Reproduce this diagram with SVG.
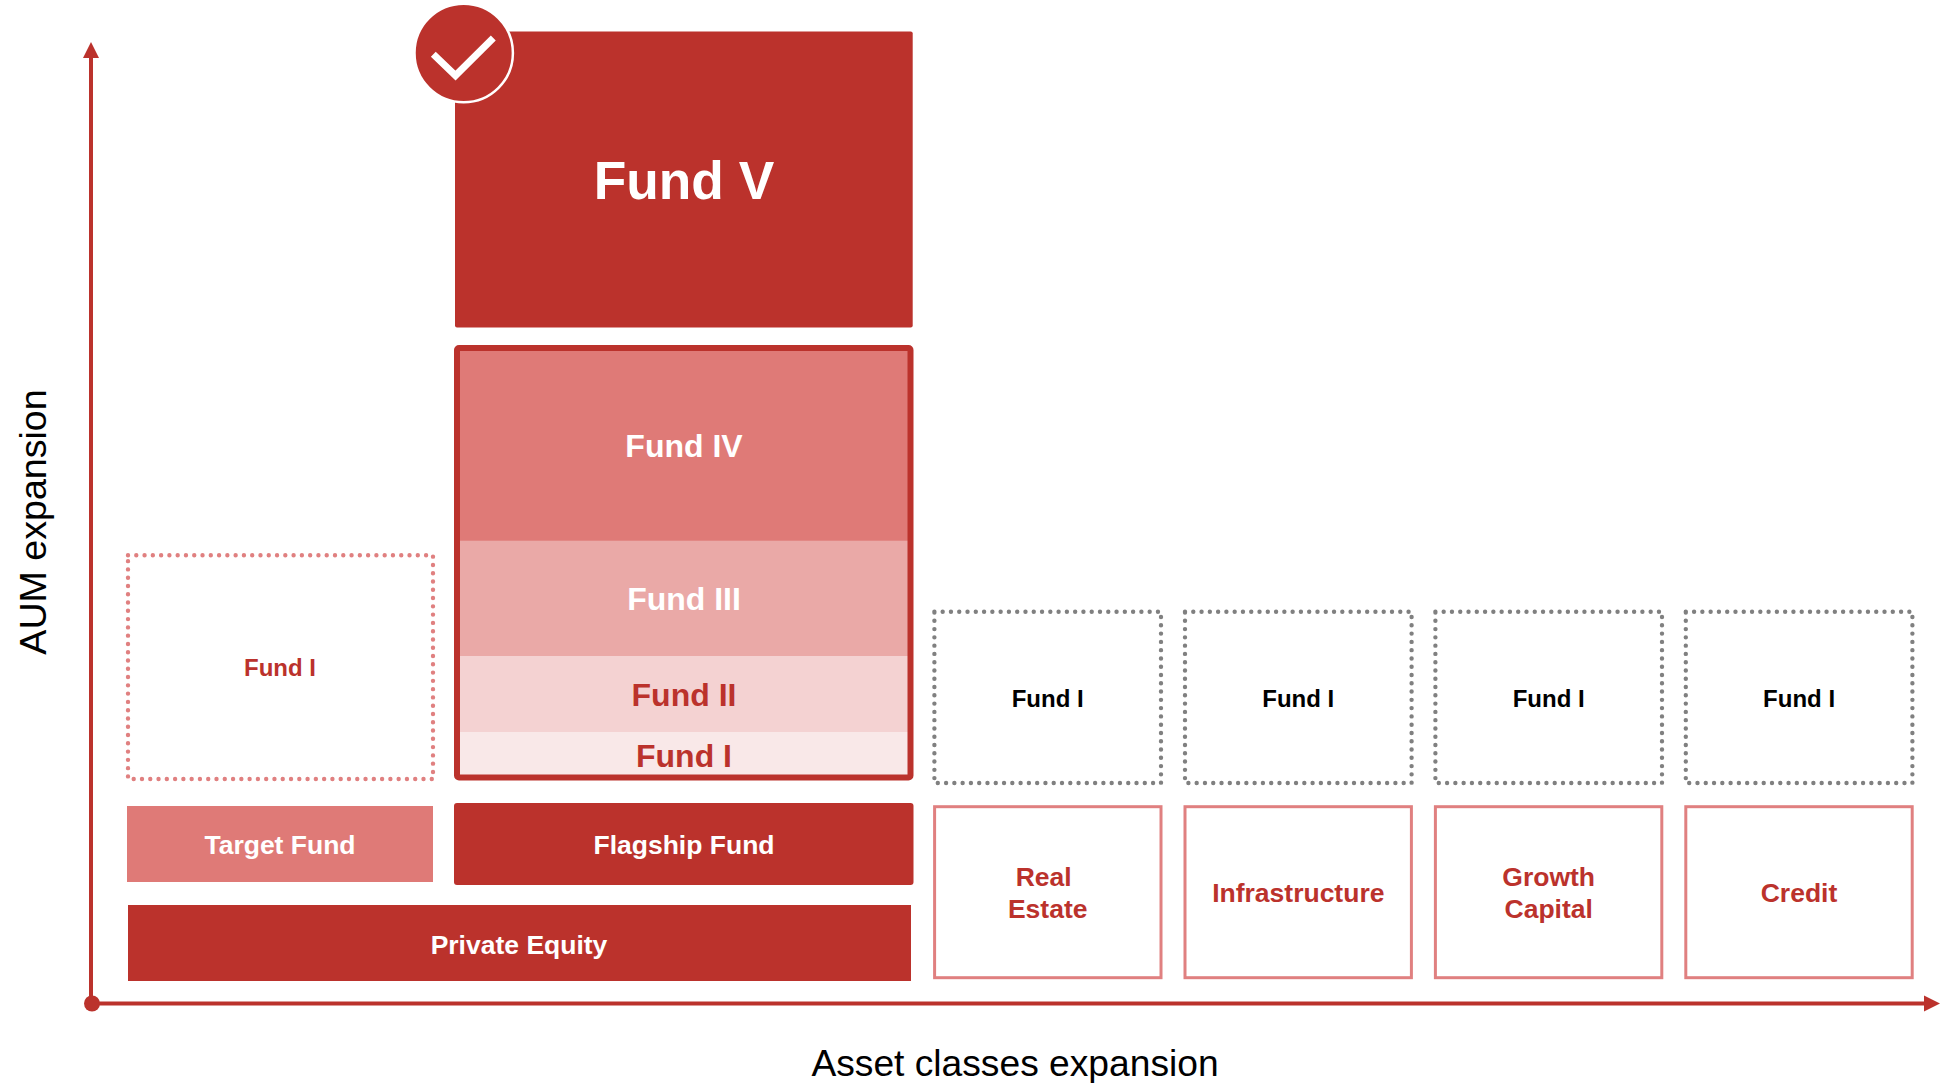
<svg xmlns="http://www.w3.org/2000/svg" width="1944" height="1083" viewBox="0 0 1944 1083">
<style>
text{font-family:"Liberation Sans",Arial,sans-serif;font-weight:700;text-anchor:middle}
.w{fill:#fff}.r{fill:#bb322c}.k{fill:#000}
.t{font-size:26.500px}.m{font-size:32px}
.ax{font-weight:400;fill:#000}
.dark{fill:#bb322c}
.cl{fill:#fff;stroke:#e08080;stroke-width:3}
.dg{fill:#fff;stroke:#808080;stroke-width:4.400;stroke-linecap:round;stroke-dasharray:0 8.28}
.dp{fill:#fff;stroke:#e08080;stroke-width:4.400;stroke-linecap:round;stroke-dasharray:0 8.28}
</style>
<rect width="1944" height="1083" fill="#fff"/>
<g id="connectors" fill="#bb322c" stroke="none">
<rect x="89" y="56" width="4" height="948"/>
<path d="M91 42L99 58H83Z"/>
<circle cx="92" cy="1003.5" r="8"/>
<rect x="92" y="1001.5" width="1834" height="4"/>
<path d="M1940 1003.5L1924 1011.5V995.5Z"/>
</g>
<g id="fund-v">
<rect class="dark" x="455" y="31.500" width="457.700" height="296" rx="2"/>
<text class="w" x="684" y="199" font-size="53.300">Fund V</text>
</g>
<g id="check">
<circle cx="463.700" cy="53" r="49.200" fill="#bb322c" stroke="#fff" stroke-width="2.500"/>
<path d="M433.300 54.300L455.500 75.500L493.300 38" fill="none" stroke="#fff" stroke-width="7"/>
</g>
<g id="fund-stack">
<rect x="459" y="351" width="451" height="190" fill="#df7a77"/>
<rect x="459" y="540.700" width="451" height="115.300" fill="#eaa9a7"/>
<rect x="459" y="656" width="451" height="76" fill="#f4d2d2"/>
<rect x="459" y="732" width="451" height="43" fill="#f9e8e8"/>
<rect x="457" y="348" width="453.500" height="429.500" rx="2" fill="none" stroke="#bb322c" stroke-width="6"/>
<text class="w m" x="684" y="456.700">Fund IV</text>
<text class="w m" x="684" y="610">Fund III</text>
<text class="r m" x="684" y="705.700">Fund II</text>
<text class="r m" x="684" y="766.700">Fund I</text>
</g>
<g id="target-fund-i">
<rect class="dp" x="128" y="555.300" width="305" height="223.700"/>
<text class="r" x="280" y="676" font-size="24">Fund I</text>
</g>
<g id="target-fund">
<rect x="127" y="806" width="306" height="76" fill="#df7a77"/>
<text class="w t" x="280" y="853.500">Target Fund</text>
</g>
<g id="flagship-fund">
<rect class="dark" x="454" y="803" width="459.500" height="82" rx="3"/>
<text class="w t" x="684" y="854">Flagship Fund</text>
</g>
<g id="private-equity">
<rect class="dark" x="128" y="905" width="783" height="76"/>
<text class="w t" x="519" y="953.500">Private Equity</text>
</g>
<g id="fund-i-re"><rect class="dg" x="934.400" y="611.800" width="226.600" height="171.200"/><text class="k" x="1047.700" y="706.700" font-size="24">Fund I</text></g>
<g id="fund-i-infra"><rect class="dg" x="1185" y="611.800" width="226.600" height="171.200"/><text class="k" x="1298.300" y="706.700" font-size="24">Fund I</text></g>
<g id="fund-i-growth"><rect class="dg" x="1435.400" y="611.800" width="226.600" height="171.200"/><text class="k" x="1548.700" y="706.700" font-size="24">Fund I</text></g>
<g id="fund-i-credit"><rect class="dg" x="1685.800" y="611.800" width="226.600" height="171.200"/><text class="k" x="1799.100" y="706.700" font-size="24">Fund I</text></g>
<g id="real-estate"><rect class="cl" x="934.600" y="806.700" width="226.400" height="171"/><text class="r t"><tspan x="1043.700" y="885.700">Real</tspan><tspan x="1047.700" y="918">Estate</tspan></text></g>
<g id="infrastructure"><rect class="cl" x="1185" y="806.700" width="226.400" height="171"/><text class="r t" x="1298.300" y="902">Infrastructure</text></g>
<g id="growth-capital"><rect class="cl" x="1435.400" y="806.700" width="226.400" height="171"/><text class="r t"><tspan x="1548.700" y="885.700">Growth</tspan><tspan x="1548.700" y="918">Capital</tspan></text></g>
<g id="credit"><rect class="cl" x="1685.800" y="806.700" width="226.400" height="171"/><text class="r t" x="1799" y="902">Credit</text></g>
<text class="ax" x="1015" y="1075.500" font-size="37.200">Asset classes expansion</text>
<text class="ax" font-size="37.600" transform="translate(45.700 522) rotate(-90)">AUM expansion</text>
</svg>
